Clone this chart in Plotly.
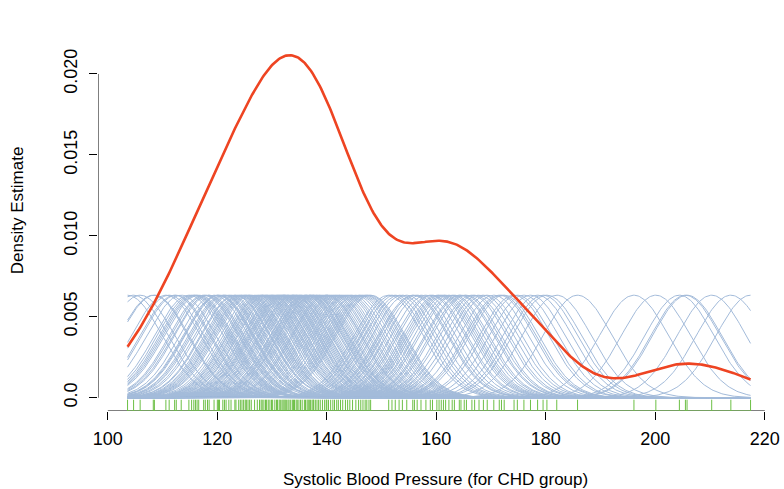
import numpy as np
import plotly.graph_objects as go

# Systolic blood pressure, CHD group (read from rug, jittered values)
sbp = [
    103.6, 104.7, 105.9,
    108.3, 108.5,
    110.6, 111.2, 112.2, 112.5, 113.4,
    114.8, 115.3, 115.7, 116.0, 116.3, 116.6, 117.5, 117.8,
    118.2, 118.5, 119.4, 120.0, 120.2, 120.4, 121.0, 121.3, 121.6,
    122.1, 122.5, 123.2, 123.4, 123.9, 124.2, 124.5, 124.8, 125.1, 125.3, 125.6, 125.9,
    126.2, 126.8, 127.3, 127.7, 128.0, 128.2, 128.5, 128.8, 129.0, 129.3, 129.6, 129.9,
    130.1, 130.5, 130.8, 131.0, 131.3, 131.5, 131.8, 132.0, 132.2, 132.4, 132.6, 132.9, 133.1, 133.4, 133.7, 133.9,
    134.1, 134.4, 134.6, 134.9, 135.2, 135.5, 135.9, 136.1, 136.4, 136.6, 136.8, 137.0, 137.3, 137.5, 137.6, 137.9,
    138.2, 138.5, 138.8, 139.2, 139.6, 139.9, 140.0, 140.3, 140.7, 141.1, 141.4, 141.8,
    142.1, 142.5, 142.9, 143.4, 143.8, 144.2, 144.7, 145.3, 145.8,
    146.2, 146.6, 147.0, 147.3, 147.7, 148.0,
    151.3, 151.9, 152.5, 153.2, 153.8,
    154.6, 155.7, 156.0, 156.5, 157.2,
    158.1, 158.9, 159.3, 160.1, 160.5, 160.9, 161.3, 161.7,
    162.3, 162.9, 163.3, 164.2, 164.5, 165.1, 165.5,
    166.5, 167.0, 167.8, 168.6, 169.3,
    170.5, 171.5, 171.9, 172.4,
    174.2, 174.8, 176.0, 177.2,
    178.5, 179.5, 180.2, 182.0,
    185.8, 196.1, 200.1, 204.4, 205.5, 205.8, 210.3, 213.8, 217.4,
]

bandwidth = 6.3
kernel_scale = 10.0  # kernels scaled down by a factor of 10

x_ticks = [100, 120, 140, 160, 180, 200, 220]
y_ticks = [0.0, 0.005, 0.010, 0.015, 0.020]
y_tick_text = ["0.0", "0.005", "0.010", "0.015", "0.020"]

data = np.array(sbp)
grid = np.linspace(data.min(), data.max(), 500)


def gauss(g, m, h):
    return np.exp(-0.5 * ((g - m) / h) ** 2) / (h * np.sqrt(2 * np.pi))


kx, ky = [], []
for xi in data:
    kx.extend(grid.tolist() + [None])
    ky.extend((gauss(grid, xi, bandwidth) / kernel_scale).tolist() + [None])

kde = np.mean([gauss(grid, xi, bandwidth) for xi in data], axis=0)

rug_top = -0.00012
rug_bot = -0.00082
rx, ry = [], []
for xi in data:
    rx += [xi, xi, None]
    ry += [rug_bot, rug_top, None]

fig = go.Figure()
fig.add_trace(go.Scatter(x=kx, y=ky, mode="lines",
                         line=dict(color="#a3bbda", width=1), hoverinfo="skip"))
fig.add_trace(go.Scatter(x=rx, y=ry, mode="lines",
                         line=dict(color="#6cbf45", width=1), hoverinfo="skip"))
fig.add_trace(go.Scatter(x=[data.min(), data.max()], y=[rug_bot, rug_bot], mode="lines",
                         line=dict(color="#6cbf45", width=1.2), hoverinfo="skip"))
fig.add_trace(go.Scatter(x=grid, y=kde, mode="lines",
                         line=dict(color="#ee4422", width=2.6), hoverinfo="skip"))

xmin, xmax = 98.2, 221.5
ymin, ymax = -0.00082, 0.02395

# R-style axis lines spanning only the tick range
fig.add_shape(type="line", xref="x", yref="y", x0=x_ticks[0], x1=x_ticks[-1],
              y0=ymin, y1=ymin, line=dict(color="black", width=1), layer="below")
fig.add_shape(type="line", xref="x", yref="y", x0=xmin, x1=xmin,
              y0=y_ticks[0], y1=y_ticks[-1], line=dict(color="black", width=1), layer="below")

font = "Liberation Sans, Arial, Helvetica, sans-serif"
fig.add_annotation(text="Systolic Blood Pressure (for CHD group)", xref="paper", yref="paper",
                   x=0.5, y=-0.142, yanchor="top", xanchor="center", showarrow=False,
                   font=dict(size=17, family=font, color="black"))
fig.add_annotation(text="Density Estimate", xref="paper", yref="paper",
                   x=-0.119, y=0.5, xanchor="center", yanchor="middle", textangle=-90,
                   showarrow=False, font=dict(size=17, family=font, color="black"))

fig.update_layout(
    width=784, height=489,
    margin=dict(l=98, r=11, t=10, b=78, autoexpand=False),
    paper_bgcolor="white", plot_bgcolor="white",
    showlegend=False,
    font=dict(family=font, color="black"),
    xaxis=dict(range=[xmin, xmax], tickvals=x_ticks, ticks="outside", ticklen=8,
               tickcolor="black", showgrid=False, zeroline=False, showline=False,
               automargin=False, ticklabelstandoff=3, tickfont=dict(size=18)),
    yaxis=dict(range=[ymin, ymax], tickvals=y_ticks, ticktext=y_tick_text,
               ticks="outside", ticklen=8, tickcolor="black", tickangle=-90,
               showgrid=False, zeroline=False, showline=False,
               automargin=False, ticklabelstandoff=5, tickfont=dict(size=18)),
)

fig.write_html("out.html", config={"displayModeBar": False},
               post_script="document.body.style.margin='0';document.body.style.overflow='hidden';")
